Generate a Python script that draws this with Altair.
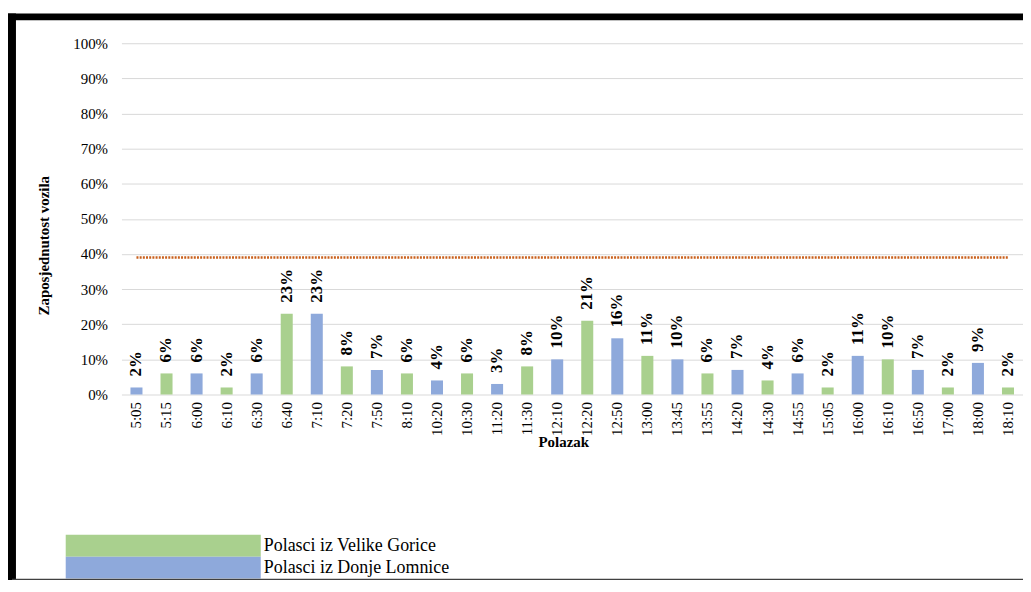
import altair as alt
import pandas as pd

departures = ["5:05", "5:15", "6:00", "6:10", "6:30", "6:40", "7:10", "7:20", "7:50", "8:10",
              "10:20", "10:30", "11:20", "11:30", "12:10", "12:20", "12:50", "13:00", "13:45", "13:55",
              "14:20", "14:30", "14:55", "15:05", "16:00", "16:10", "16:50", "17:00", "18:00", "18:10"]
occupancy = [0.02, 0.06, 0.06, 0.02, 0.06, 0.23, 0.23, 0.08, 0.07, 0.06,
             0.04, 0.06, 0.03, 0.08, 0.10, 0.21, 0.16, 0.11, 0.10, 0.06,
             0.07, 0.04, 0.06, 0.02, 0.11, 0.10, 0.07, 0.02, 0.09, 0.02]
S_VG = "Polasci iz Velike Gorice"
S_DL = "Polasci iz Donje Lomnice"
origin = [S_DL, S_VG, S_DL, S_VG, S_DL, S_VG, S_DL, S_VG, S_DL, S_VG,
          S_DL, S_VG, S_DL, S_VG, S_DL, S_VG, S_DL, S_VG, S_DL, S_VG,
          S_DL, S_VG, S_DL, S_VG, S_DL, S_VG, S_DL, S_VG, S_DL, S_VG]
series = [S_VG, S_DL]
colors = ["#A9D08E", "#8EA9DB"]
threshold = 0.39
y_ticks = [0.0, 0.1, 0.2, 0.3, 0.4, 0.5, 0.6, 0.7, 0.8, 0.9, 1.0]

FONT = "Liberation Serif"
W, H = 906, 353

df = pd.DataFrame({"Polazak": departures, "value": occupancy, "series": origin})
df_thr = pd.DataFrame({"Polazak": departures, "thr": [threshold] * len(departures)})
df_leg = pd.DataFrame({"series": series})
df_one = pd.DataFrame({"a": [0]})

color = alt.Color("series:N", scale=alt.Scale(domain=series, range=colors), legend=None)
xscale = alt.Scale(paddingInner=0.6, paddingOuter=0.3)
xaxis = alt.Axis(title="Polazak", labelAngle=-90, labelAlign="right", labelBaseline="middle",
                 labelPadding=7, ticks=False, domain=False, labelFont=FONT, labelFontSize=15,
                 labelColor="#000000", titleFont=FONT, titleFontSize=15, titleFontWeight="bold",
                 titleColor="#000000", titleX=444, titleY=47, titleBaseline="middle",
                 titleAnchor="middle")
yscale = alt.Scale(domain=[0, 1], nice=False)
yaxis = alt.Axis(title="Zaposjednutost  vozila", format=".0%", values=y_ticks, tickCount=30,
                 labelOverlap=False,
                 ticks=False, domain=False, grid=True, gridColor="#D9D9D9", gridWidth=1,
                 labelFont=FONT, labelFontSize=15, labelColor="#000000", labelPadding=14,
                 titleFont=FONT, titleFontSize=15, titleFontWeight="bold", titleColor="#000000",
                 titleX=-78, titleY=203, titleBaseline="middle", titleAngle=270)

bars = alt.Chart(df).mark_bar().encode(
    x=alt.X("Polazak:N", sort=departures, scale=xscale, axis=xaxis),
    y=alt.Y("value:Q", scale=yscale, axis=yaxis),
    color=color,
)

labels = alt.Chart(df).mark_text(angle=270, align="left", baseline="middle", dx=11,
                                 font=FONT, fontSize=17, fontWeight="bold", color="#000000").encode(
    x=alt.X("Polazak:N", sort=departures, scale=xscale, axis=xaxis),
    y=alt.Y("value:Q", scale=yscale, axis=yaxis),
    text=alt.Text("value:Q", format=".0%"),
)

thr_line = alt.Chart(df_thr).mark_line(color="#C9601C", strokeWidth=2.5, strokeDash=[2, 1.2]).encode(
    x=alt.X("Polazak:N", sort=departures, scale=xscale, axis=xaxis),
    y=alt.Y("thr:Q", scale=yscale, axis=yaxis),
)

main = alt.layer(bars, labels, thr_line)

leg_y = alt.Y("series:N", sort=series, axis=None,
              scale=alt.Scale(domain=series, range=[494, 538], paddingInner=0, paddingOuter=0))
leg_rect = alt.Chart(df_leg).mark_rect().encode(
    x=alt.value(-56), x2=alt.value(140), y=leg_y, color=color)
leg_text = alt.Chart(df_leg).mark_text(align="left", baseline="middle", font=FONT, fontSize=18,
                                       color="#000000").encode(
    x=alt.value(143), y=leg_y, text="series:N")

border_left = alt.Chart(df_one).mark_rule(color="#000000", strokeWidth=8).encode(
    x=alt.value(-110), y=alt.value(-30), y2=alt.value(540))
border_top = alt.Chart(df_one).mark_rule(color="#000000", strokeWidth=7).encode(
    x=alt.value(-114), x2=alt.value(906), y=alt.value(-26.5))
border_bottom = alt.Chart(df_one).mark_rule(color="#404040", strokeWidth=1.5).encode(
    x=alt.value(-110), x2=alt.value(906), y=alt.value(539))

chart = alt.layer(main, alt.layer(leg_rect, leg_text), border_left, border_top, border_bottom).resolve_scale(
    y="independent"
).properties(
    width=W, height=H,
    autosize=alt.AutoSizeParams(type="none"),
    padding={"left": 114, "top": 34, "right": 0, "bottom": 185},
).configure_view(stroke=None)

chart.save("out.html", embed_options={"renderer": "svg", "actions": False})
